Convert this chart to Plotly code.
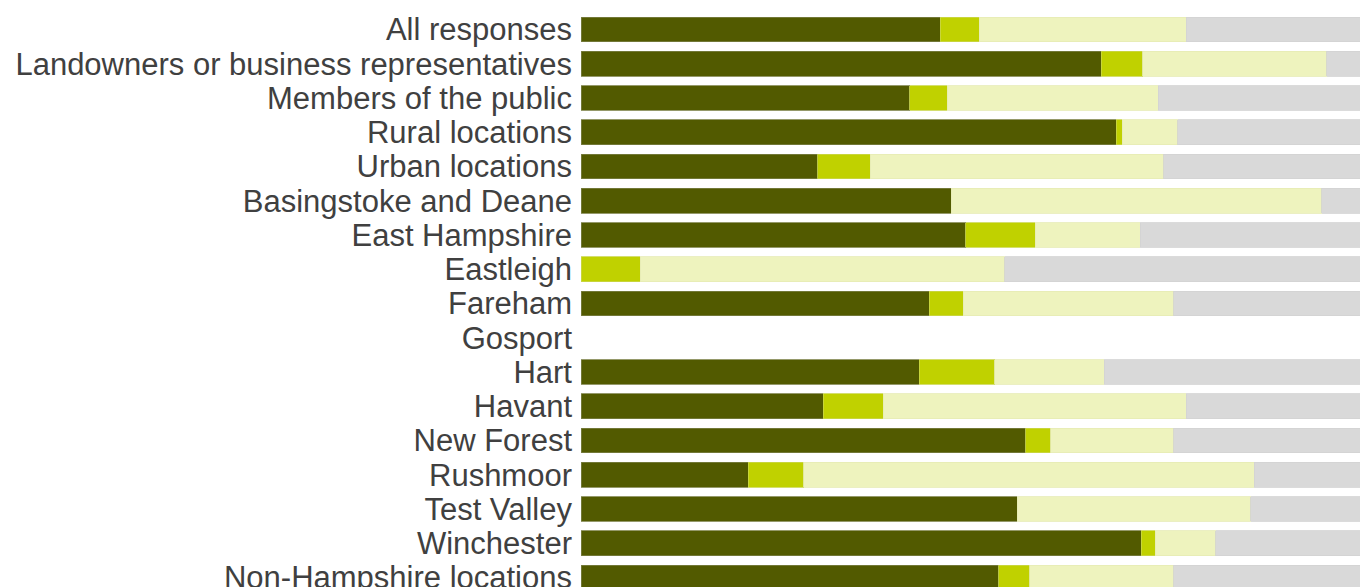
import plotly.graph_objects as go

categories = [
    "All responses",
    "Landowners or business representatives",
    "Members of the public",
    "Rural locations",
    "Urban locations",
    "Basingstoke and Deane",
    "East Hampshire",
    "Eastleigh",
    "Fareham",
    "Gosport",
    "Hart",
    "Havant",
    "New Forest",
    "Rushmoor",
    "Test Valley",
    "Winchester",
    "Non-Hampshire locations",
]

# Percent shares per response group
series1 = [46.1, 66.8, 42.2, 68.7, 30.4, 47.5, 49.4, 0.0, 44.7, None, 43.4, 31.1, 57.1, 21.5, 56.0, 71.9, 53.6]
series2 = [5.0, 5.3, 4.8, 0.8, 6.7, 0.0, 8.9, 7.6, 4.4, None, 9.7, 7.7, 3.2, 7.1, 0.0, 1.8, 4.0]
series3 = [26.6, 23.6, 27.1, 7.1, 37.7, 47.6, 13.5, 46.8, 27.0, None, 14.1, 38.9, 15.8, 57.8, 30.0, 7.8, 18.5]
series4 = [22.3, 4.3, 25.9, 23.4, 25.2, 4.9, 28.2, 45.6, 23.9, None, 32.8, 22.3, 23.9, 13.6, 14.0, 18.5, 23.9]

series_names = ["Series 1", "Series 2", "Series 3", "Series 4"]
colors = ["#525a00", "#c0d100", "#eef3be", "#d9d9d9"]
line_colors = ["#7a7f45", "#c9d64a", "#e6ebb4", "#d2d2d2"]

fig = go.Figure()
for name, vals, col, lc in zip(series_names, [series1, series2, series3, series4], colors, line_colors):
    fig.add_trace(go.Bar(
        y=categories,
        x=vals,
        name=name,
        orientation="h",
        marker=dict(color=col, line=dict(color=lc, width=0.8)),
        showlegend=False,
        hoverinfo="x+y+name",
    ))

px_per_row = 34.25
top_offset = 29.5
plot_h = 587
r0 = -top_offset / px_per_row
r1 = r0 + plot_h / px_per_row

fig.update_layout(
    barmode="stack",
    bargap=0.28,
    width=1360,
    height=587,
    margin=dict(l=581, r=0, t=0, b=0, autoexpand=False),
    paper_bgcolor="white",
    plot_bgcolor="white",
    font=dict(family="Liberation Sans, Arial, sans-serif", size=31, color="#404040"),
    xaxis=dict(range=[0, 100], visible=False, fixedrange=True, automargin=False),
    yaxis=dict(
        type="category",
        categoryorder="array",
        categoryarray=categories,
        range=[r1, r0],
        tickmode="array",
        tickvals=categories,
        ticktext=categories,
        showgrid=False,
        zeroline=False,
        showline=False,
        ticks="",
        ticklabelstandoff=8,
        ticklabeloverflow="allow",
        automargin=False,
        tickfont=dict(size=31, color="#404040"),
        fixedrange=True,
    ),
)

fig.write_html(
    "out.html",
    config={"displayModeBar": False},
    post_script="document.body.style.margin='0';document.body.style.overflow='hidden';",
)
